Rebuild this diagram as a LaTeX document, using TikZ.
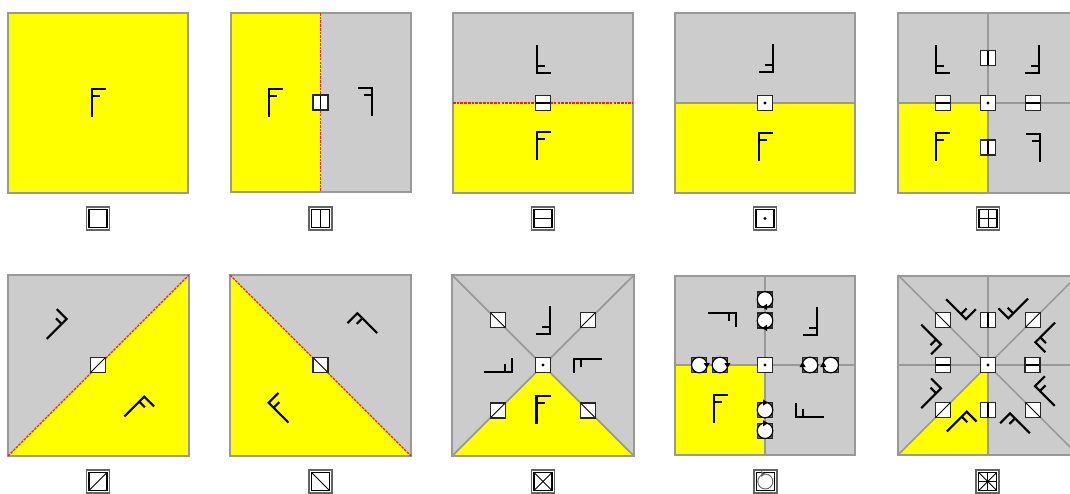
\documentclass[tikz,border=0pt]{standalone}
\usetikzlibrary{arrows.meta,positioning}
\definecolor{facegray}{RGB}{204,204,204}
\definecolor{edgegray}{RGB}{153,153,153}
\definecolor{icongray}{RGB}{100,100,100}
\definecolor{faceyellow}{RGB}{255,255,0}
\definecolor{seamred}{RGB}{235,30,40}
\newcommand{\pbc}{path picture bounding box.center}
\newcommand{\imv}{\draw[iconmark] ([shift={(0,-9)}]\pbc) -- ([shift={(0,9)}]\pbc);}
\newcommand{\imh}{\draw[iconmark] ([shift={(-9,0)}]\pbc) -- ([shift={(9,0)}]\pbc);}
\newcommand{\imu}{\draw[iconmark] ([shift={(-9,9)}]\pbc) -- ([shift={(9,-9)}]\pbc);}
\newcommand{\imd}{\draw[iconmark] ([shift={(-9,-9)}]\pbc) -- ([shift={(9,9)}]\pbc);}
\tikzset{
  frame/.style={draw=edgegray,line width=1.4pt},
  thickframe/.style={draw=edgegray,line width=1.9pt},
  divider/.style={draw=edgegray,line width=1.3pt},
  seam/.style={draw=seamred,line width=0.9pt,dash pattern=on 2pt off 0.8pt},
  glyph/.style={draw=black,line width=1.6pt},
  cell/.style={draw=black!85,line width=1pt,fill=white,minimum size=11.25pt,inner sep=0pt},
  vcell/.style={cell,path picture={\draw[black,line width=1.3pt] (path picture bounding box.north) -- (path picture bounding box.south);}},
  hcell/.style={cell,path picture={\draw[black,line width=1.3pt] (path picture bounding box.west) -- (path picture bounding box.east);}},
  ucell/.style={cell,path picture={\draw[black,line width=0.7pt] (path picture bounding box.south west) -- (path picture bounding box.north east);}},
  dcell/.style={cell,path picture={\draw[black,line width=0.7pt] (path picture bounding box.north west) -- (path picture bounding box.south east);}},
  pcell/.style={cell,path picture={\fill[black] (\pbc) circle (1.6);}},
  iconmark/.style={draw=black,line width=0.6pt},
  icon/.style={draw=icongray,line width=1.2pt,fill=white,minimum size=17.3pt,inner sep=0pt,
    path picture={\draw[draw=black,line width=0.8pt] ([shift={(-9,-9)}]\pbc) rectangle ([shift={(9,9)}]\pbc); #1}},
  pics/fglyph/.style={code={
    \draw[glyph] (-6,14) -- (-6,-14) -- (8,-14);
    \draw[glyph] (-6,-7) -- (2,-7);
  }},
  pics/rotcell/.style={code={
    \node[cell,fill=icongray] (-box) at (0,0) {};
    \draw[draw=black,line width=0.9pt,fill=white] (0,0) circle (7.8);
    \fill[black] (-3,7.5) -- (2,4.3) -- (2,10.5) -- cycle;
  }}
}
\begin{document}
\begin{tikzpicture}[x=0.75pt,y=-0.75pt]
\clip (0,0) rectangle (1070,493);
% top row
\fill[faceyellow] (8,13) rectangle (188,193);
\draw[thickframe] (8,13) rectangle (188,193);
\pic at (98,103) {fglyph};
\node[icon] (ia) at (98,218.5) {};

\fill[faceyellow] (231,13) rectangle (320.5,192);
\fill[facegray] (320.5,13) rectangle (411,192);
\draw[frame] (231,13) rectangle (411,192);
\draw[seam] (320.5,13) -- (320.5,192);
\pic at (275,103) {fglyph};
\pic[xscale=-1] at (366,102) {fglyph};
\node[vcell] (cb) at (320.5,102.5) {};
\node[icon={\imv}] (ib) at (320.5,218.5) {};

\fill[facegray] (453,13) rectangle (633,103);
\fill[faceyellow] (453,103) rectangle (633,193);
\draw[frame] (453,13) rectangle (633,193);
\draw[seam] (453,103) -- (633,103);
\pic[yscale=-1] at (543,59) {fglyph};
\pic at (543,146) {fglyph};
\node[hcell] (cc) at (543,103) {};
\node[icon={\imh}] (ic) at (543,218.5) {};

\fill[facegray] (675,13) rectangle (855,103);
\fill[faceyellow] (675,103) rectangle (855,193);
\draw[thickframe] (675,13) rectangle (855,193);
\draw[divider] (675,103) -- (855,103);
\pic[rotate=180] at (767,58) {fglyph};
\pic at (765,147) {fglyph};
\node[pcell] (cd) at (765,103) {};
\node[icon={\fill[black] (\pbc) circle (1.6);}] (id) at (765,218.5) {};

\fill[facegray] (898,13) rectangle (1078,193);
\fill[faceyellow] (898,103) rectangle (988,193);
\draw[frame] (898,13) rectangle (1078,193);
\draw[divider] (988,13) -- (988,193);
\draw[divider] (898,103) -- (1078,103);
\pic[yscale=-1] at (942,59) {fglyph};
\pic[rotate=180] at (1033,59) {fglyph};
\pic at (942,147) {fglyph};
\pic[xscale=-1] at (1034,148) {fglyph};
\node[vcell] (ce1) at (988,58) {};
\node[vcell] (ce2) at (988,147.5) {};
\node[hcell] (ce3) at (943,103) {};
\node[hcell] (ce4) at (1033,103) {};
\node[pcell] (ce5) at (988,103) {};
\node[icon={\imv\imh}] (ie) at (988,218.5) {};

% bottom row
\fill[facegray] (8,275) rectangle (189,456);
\fill[faceyellow] (8,456) -- (189,275) -- (189,456) -- cycle;
\draw[frame] (8,275) rectangle (189,456);
\draw[seam] (8,456) -- (189,275);
\pic[rotate=-45] at (138.6,410.8) {fglyph};
\pic[rotate=-45,xscale=-1] at (52.5,324.7) {fglyph};
\node[ucell] (cf) at (98,365) {};
\node[icon={\imu}] (if) at (98,481.5) {};

\fill[facegray] (230,275) rectangle (411,456);
\fill[faceyellow] (230,275) -- (411,456) -- (230,456) -- cycle;
\draw[frame] (230,275) rectangle (411,456);
\draw[seam] (230,275) -- (411,456);
\pic[rotate=45] at (282.8,408.4) {fglyph};
\pic[rotate=45,xscale=-1] at (363,327.4) {fglyph};
\node[dcell] (cg) at (320.5,365) {};
\node[icon={\imd}] (ig) at (320.5,481.5) {};

\fill[facegray] (452,275) rectangle (634,456);
\fill[faceyellow] (452,456) -- (543,365) -- (634,456) -- cycle;
\draw[frame] (452,275) rectangle (634,456);
\draw[divider] (452,275) -- (634,456);
\draw[divider] (452,456) -- (634,275);
\pic at (542.5,410) {fglyph};
\pic[rotate=180] at (543.7,320) {fglyph};
\pic[rotate=-90,xscale=-1] at (497.7,366) {fglyph};
\pic[rotate=90,xscale=-1] at (588.3,364.7) {fglyph};
\node[dcell] (ch1) at (497.7,320) {};
\node[ucell] (ch2) at (588,320) {};
\node[ucell] (ch3) at (497.7,410.5) {};
\node[dcell] (ch4) at (588,410.5) {};
\node[pcell] (ch5) at (543,365) {};
\node[icon={\imu\imd}] (ih) at (543,481.5) {};

\fill[facegray] (675,276) rectangle (855,455);
\fill[faceyellow] (675,365) rectangle (765,455);
\draw[frame] (675,276) rectangle (855,455);
\draw[divider] (765,276) -- (765,455);
\draw[divider] (675,365) -- (855,365);
\pic at (720,409) {fglyph};
\pic[rotate=-90] at (722,319.3) {fglyph};
\pic[rotate=180] at (810.7,321) {fglyph};
\pic[rotate=90] at (809.7,410.7) {fglyph};
\pic (rt1) at (765,299.5) {rotcell};
\pic (rt2) at (765,320.5) {rotcell};
\pic[rotate=90] (rl1) at (699.3,365) {rotcell};
\pic[rotate=90] (rl2) at (720,365) {rotcell};
\pic[rotate=-90] (rr1) at (810,365) {rotcell};
\pic[rotate=-90] (rr2) at (830.7,365) {rotcell};
\pic[rotate=180] (rb1) at (765,410) {rotcell};
\pic[rotate=180] (rb2) at (765,430.7) {rotcell};
\node[pcell] (ci) at (765,365) {};
\node[icon={\draw[draw=icongray,line width=0.7pt,fill=none] (\pbc) circle (7.5);
  \fill[icongray] ([shift={(0,-7.5)}]\pbc) -- ([shift={(-4,-10.5)}]\pbc) -- ([shift={(-4,-4.5)}]\pbc) -- cycle;}] (ii) at (765.3,481.5) {};

\fill[facegray] (898,276) rectangle (1078,455);
\fill[faceyellow] (898,455) -- (988,365) -- (988,455) -- cycle;
\draw[frame] (898,276) rectangle (1078,455);
\draw[divider] (988,276) -- (988,455);
\draw[divider] (898,365) -- (1078,365);
\draw[divider] (898,275) -- (1078,455);
\draw[divider] (898,455) -- (1078,275);
\pic[rotate=-45] at (961,425.8) {fglyph};
\pic[rotate=45,xscale=-1] at (1015.7,427.5) {fglyph};
\pic[rotate=-45,xscale=-1] at (926.9,394) {fglyph};
\pic[rotate=-135] at (926.9,338.7) {fglyph};
\pic[rotate=-135,xscale=-1] at (960.3,304.9) {fglyph};
\pic[rotate=135] at (1014,304.2) {fglyph};
\pic[rotate=135,xscale=-1] at (1049.5,336.7) {fglyph};
\pic[rotate=45] at (1049.1,391.7) {fglyph};
\node[vcell] (cj1) at (987.7,320) {};
\node[vcell] (cj2) at (987.7,410) {};
\node[hcell] (cj3) at (943,365) {};
\node[hcell] (cj4) at (1032.5,365) {};
\node[dcell] (cj5) at (943,320) {};
\node[ucell] (cj6) at (1032.7,320) {};
\node[ucell] (cj7) at (943,410) {};
\node[dcell] (cj8) at (1033,410) {};
\node[pcell] (cj9) at (988,365) {};
\node[icon={\imv\imh\imu\imd}] (ij) at (987.7,481.5) {};
\end{tikzpicture}
\end{document}
